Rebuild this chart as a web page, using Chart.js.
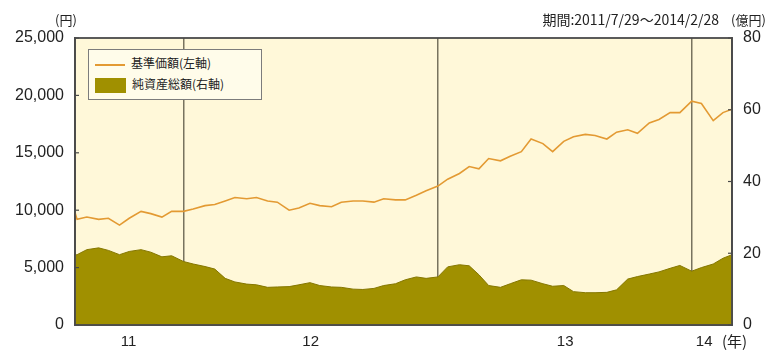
<!DOCTYPE html>
<html>
<head>
<meta charset="utf-8">
<script src="https://cdn.jsdelivr.net/npm/chart.js@4/dist/chart.umd.min.js"></script>
<style>
    body { margin: 0; background: #fff; }
    #wrap { position: relative; width: 781px; height: 355px; }
    #legend {
        position: absolute; left: 88px; top: 49px; width: 174px; height: 51px;
        border: 1px solid #7c7c7c; background: #fffcea; box-sizing: border-box;
        font: 12px 'Noto Sans CJK JP', sans-serif; color: #222;
    }
    .item { position: absolute; left: 6px; height: 18px; line-height: 18px; white-space: nowrap; }
    .item span { display: inline-block; vertical-align: middle; margin-right: 6px; }
    .swatch-line { width: 30px; height: 2px; background: #e39a33; }
    .swatch-box { width: 31px; height: 15px; background: #a09000; }
</style>
</head>
<body>
<div id="wrap">
    <canvas id="chartFondo" width="781" height="355"></canvas>
    <div id="legend">
        <div class="item" style="top:4px"><span class="swatch-line"></span>基準価額(左軸)</div>
        <div class="item" style="top:25px"><span class="swatch-box"></span>純資産総額(右軸)</div>
    </div>
</div>
<script>
// 1日と15日ごと 2011/7/29〜2014/2/28
const fechas = [
    '2011-07-29', '2011-08-01', '2011-08-15', '2011-09-01', '2011-09-15', '2011-10-01', '2011-10-15',
    '2011-11-01', '2011-11-15', '2011-12-01', '2011-12-15',
    '2012-01-01', '2012-01-15', '2012-02-01', '2012-02-15', '2012-03-01', '2012-03-15',
    '2012-04-01', '2012-04-15', '2012-05-01', '2012-05-15', '2012-06-01', '2012-06-15',
    '2012-07-01', '2012-07-15', '2012-08-01', '2012-08-15', '2012-09-01', '2012-09-15',
    '2012-10-01', '2012-10-15', '2012-11-01', '2012-11-15', '2012-12-01', '2012-12-15',
    '2013-01-01', '2013-01-15', '2013-02-01', '2013-02-15', '2013-03-01', '2013-03-15',
    '2013-04-01', '2013-04-15', '2013-05-01', '2013-05-15', '2013-06-01', '2013-06-15',
    '2013-07-01', '2013-07-15', '2013-08-01', '2013-08-15', '2013-09-01', '2013-09-15',
    '2013-10-01', '2013-10-15', '2013-11-01', '2013-11-15', '2013-12-01', '2013-12-15',
    '2014-01-01', '2014-01-15', '2014-02-01', '2014-02-15', '2014-02-28'
];

// 基準価額 (円)
const baseValues = [
    9800, 9200, 9400, 9200, 9300, 8700, 9300,
    9900, 9700, 9400, 9900,
    9900, 10100, 10400, 10500, 10800, 11100,
    11000, 11100, 10800, 10700, 10000, 10200,
    10600, 10400, 10300, 10700, 10800, 10800,
    10700, 11000, 10900, 10900, 11300, 11700,
    12100, 12700, 13200, 13800, 13600, 14500,
    14300, 14700, 15100, 16200, 15800, 15100,
    16000, 16400, 16600, 16500, 16200, 16800,
    17000, 16700, 17600, 17900, 18500, 18500,
    19500, 19300, 17800, 18500, 18800
];

// 純資産総額 (億円)
const netAssets = [
    19.5, 19.6, 21.0, 21.5, 20.8, 19.6, 20.5,
    21.0, 20.3, 19.0, 19.3,
    17.7, 17.0, 16.3, 15.6, 13.0, 12.0,
    11.4, 11.2, 10.5, 10.6, 10.7, 11.2,
    11.8, 11.0, 10.6, 10.5, 10.0, 9.9,
    10.2, 11.0, 11.5, 12.6, 13.4, 13.0,
    13.4, 16.2, 16.8, 16.5, 14.0, 11.0,
    10.5, 11.5, 12.6, 12.5, 11.5, 10.8,
    11.0, 9.3, 9.0, 9.0, 9.1, 9.8,
    12.8, 13.5, 14.2, 14.8, 15.8, 16.6,
    15.0, 16.0, 17.0, 18.6, 19.6
];

const yearBreaks = ['2012-01-01', '2013-01-01', '2014-01-01'];
const yearLabels = ['11', '12', '13', '14'];
const yearLabelDates = ['2011-10-14', '2012-07-02', '2013-07-03', '2014-01-19'];

const leftTicks = [0, 5000, 10000, 15000, 20000, 25000];
const rightTicks = [0, 20, 40, 60, 80];

const inicio = new Date(fechas[0] + 'T00:00:00Z');
const dias = (f) => Math.round((new Date(f + 'T00:00:00Z') - inicio) / 86400000);

const breakDays = yearBreaks.map(dias);
const labelDays = yearLabelDates.map(dias);

const fondoPlugin = {
    id: 'fondo',
    beforeDraw(chart) {
        const { ctx, chartArea: a } = chart;
        ctx.save();
        ctx.fillStyle = '#fff8d9';
        ctx.fillRect(a.left, a.top, a.right - a.left, a.bottom - a.top);
        ctx.restore();
    },
    afterDraw(chart) {
        const { ctx, chartArea: a } = chart;
        ctx.save();
        // marco
        ctx.strokeStyle = '#4a4a4a';
        ctx.lineWidth = 1.8;
        ctx.strokeRect(a.left, a.top, a.right - a.left, a.bottom - a.top);
        // marcas internas
        ctx.lineWidth = 1.2;
        chart.scales.y.ticks.forEach(t => {
            const y = chart.scales.y.getPixelForValue(t.value);
            ctx.beginPath(); ctx.moveTo(a.left, y); ctx.lineTo(a.left + 4, y); ctx.stroke();
        });
        chart.scales.y1.ticks.forEach(t => {
            const y = chart.scales.y1.getPixelForValue(t.value);
            ctx.beginPath(); ctx.moveTo(a.right - 4, y); ctx.lineTo(a.right, y); ctx.stroke();
        });
        // unidades
        ctx.fillStyle = '#222';
        ctx.textBaseline = 'middle';
        ctx.font = '13px "Noto Sans CJK JP", sans-serif';
        ctx.textAlign = 'center';
        ctx.fillText('(円)', 66, 20);
        ctx.textAlign = 'left';
        ctx.fillText('(億円)', 731, 20);
        ctx.font = '15px "Noto Sans CJK JP", sans-serif';
        ctx.fillText('(年)', 722, 341);
        ctx.textAlign = 'right';
        ctx.font = '14px "Noto Sans CJK JP", sans-serif';
        ctx.fillText('期間:2011/7/29～2014/2/28', 719, 20);
        ctx.restore();
    }
};

new Chart(document.getElementById('chartFondo'), {
    type: 'line',
    data: {
        datasets: [
            {
                label: '基準価額(左軸)',
                data: fechas.map((f, i) => ({ x: dias(f), y: baseValues[i] })),
                yAxisID: 'y',
                borderColor: '#e39a33',
                borderWidth: 1.6,
                pointRadius: 0,
                tension: 0,
                order: 1
            },
            {
                label: '純資産総額(右軸)',
                data: fechas.map((f, i) => ({ x: dias(f), y: netAssets[i] })),
                yAxisID: 'y1',
                borderColor: '#857700',
                backgroundColor: '#a09000',
                borderWidth: 1,
                pointRadius: 0,
                fill: 'origin',
                tension: 0,
                order: 2
            }
        ]
    },
    options: {
        responsive: false,
        animation: false,
        devicePixelRatio: 1,
        layout: { padding: { top: 38, left: 0, right: 0, bottom: 0 } },
        plugins: { legend: { display: false }, tooltip: { enabled: false } },
        scales: {
            x: {
                type: 'linear',
                min: 0,
                max: dias(fechas[fechas.length - 1]),
                z: 1,
                afterBuildTicks(scale) {
                    scale.ticks = breakDays.concat(labelDays).map(v => ({ value: v }));
                },
                afterFit(scale) { scale.height = 30; },
                grid: {
                    drawTicks: false,
                    lineWidth: 1.5,
                    color: (c) => breakDays.includes(c.tick && c.tick.value) ? '#78735f' : 'rgba(0,0,0,0)'
                },
                border: { color: '#4a4a4a', width: 1.8 },
                ticks: {
                    autoSkip: false,
                    maxRotation: 0,
                    padding: 8,
                    color: '#222',
                    font: { family: 'Liberation Sans', size: 15 },
                    callback: (v) => {
                        const i = labelDays.indexOf(v);
                        return i >= 0 ? yearLabels[i] : '';
                    }
                }
            },
            y: {
                position: 'left',
                min: 0,
                max: 25000,
                afterBuildTicks(scale) { scale.ticks = leftTicks.map(v => ({ value: v })); },
                afterFit(scale) { scale.width = 75; },
                grid: { drawOnChartArea: false, drawTicks: false },
                border: { color: '#4a4a4a', width: 1.8 },
                ticks: {
                    padding: 11,
                    color: '#222',
                    font: { family: 'Liberation Sans', size: 16 },
                    callback: (v) => Number(v).toLocaleString('en-US')
                }
            },
            y1: {
                position: 'right',
                min: 0,
                max: 80,
                afterBuildTicks(scale) { scale.ticks = rightTicks.map(v => ({ value: v })); },
                afterFit(scale) { scale.width = 49; },
                grid: { drawOnChartArea: false, drawTicks: false },
                border: { color: '#4a4a4a', width: 1.8 },
                ticks: {
                    padding: 11,
                    color: '#222',
                    font: { family: 'Liberation Sans', size: 16 }
                }
            }
        }
    },
    plugins: [fondoPlugin]
});
</script>
</body>
</html>
